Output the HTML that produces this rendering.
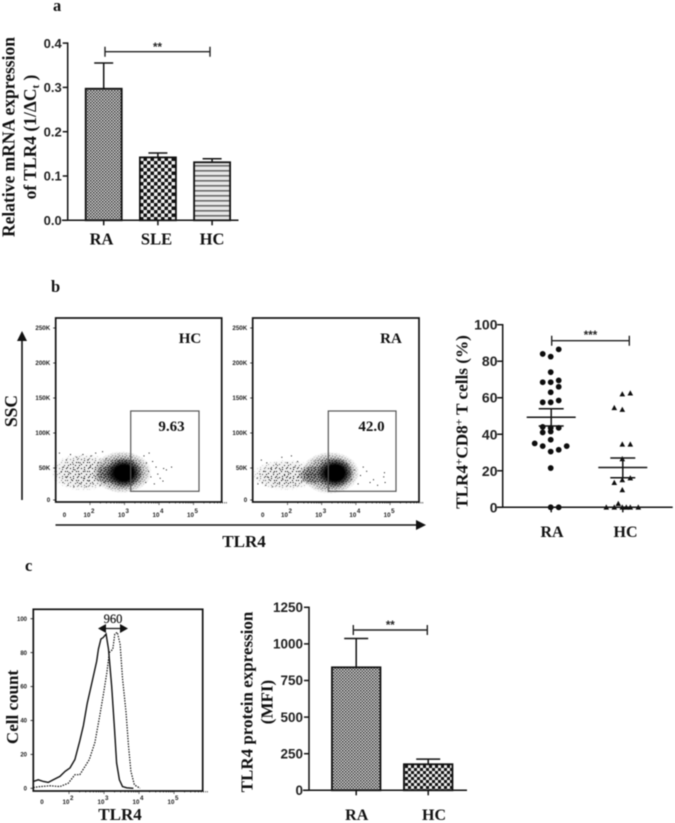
<!DOCTYPE html>
<html lang="en">
<head>
<meta charset="utf-8">
<title>TLR4 expression figure</title>
<style>
html,body{margin:0;padding:0;background:#fff;width:675px;height:823px;overflow:hidden}
svg{display:block;filter:blur(0.5px)}
.serif{font-family:"Liberation Serif",serif;font-weight:bold;fill:#111}
.sans{font-family:"Liberation Sans",sans-serif;font-weight:bold;fill:#222}
</style>
</head>
<body>
<svg id="fig" xmlns="http://www.w3.org/2000/svg" width="675" height="823" viewBox="0 0 675 823">
<defs>
  <pattern id="fine-check" width="3" height="3" patternUnits="userSpaceOnUse">
    <rect width="3" height="3" fill="#dcdcdc"/>
    <rect width="1.5" height="1.5" fill="#333"/>
    <rect x="1.5" y="1.5" width="1.5" height="1.5" fill="#444"/>
  </pattern>
  <pattern id="coarse-check" width="7" height="7" patternUnits="userSpaceOnUse">
    <rect width="7" height="7" fill="#f2f2f2"/>
    <rect width="3.5" height="3.5" fill="#111"/>
    <rect x="3.5" y="3.5" width="3.5" height="3.5" fill="#111"/>
  </pattern>
  <pattern id="mid-check" width="6" height="6" patternUnits="userSpaceOnUse">
    <rect width="6" height="6" fill="#efefef"/>
    <rect width="3" height="3" fill="#111"/>
    <rect x="3" y="3" width="3" height="3" fill="#111"/>
  </pattern>
  <pattern id="h-stripes" width="4" height="5" patternUnits="userSpaceOnUse">
    <rect width="4" height="5" fill="#e8e8e8"/>
    <rect y="0" width="4" height="1.6" fill="#6a6a6a"/>
  </pattern>
  <pattern id="stipple-dense" width="11" height="9" patternUnits="userSpaceOnUse">
    <g fill="#000">
      <rect x="0" y="0" width="1" height="1"/><rect x="4" y="0" width="1" height="1"/>
      <rect x="7" y="1" width="1" height="1"/><rect x="1" y="3" width="1" height="1"/>
      <rect x="6" y="3" width="1" height="1"/>
      <rect x="10" y="3" width="1" height="1"/><rect x="4" y="5" width="1" height="1"/>
      <rect x="2" y="6" width="1" height="1"/><rect x="9" y="6" width="1" height="1"/>
      <rect x="1" y="8" width="1" height="1"/><rect x="7" y="8" width="1" height="1"/>
    </g>
  </pattern>
  <pattern id="stipple-heavy" width="7" height="7" patternUnits="userSpaceOnUse">
    <g fill="#000">
      <rect x="0" y="0" width="1.2" height="1.2"/><rect x="3" y="0.5" width="1.2" height="1.2"/><rect x="5.5" y="1.5" width="1.2" height="1.2"/>
      <rect x="1.5" y="2.5" width="1.2" height="1.2"/><rect x="4" y="3.5" width="1.2" height="1.2"/><rect x="0" y="4.5" width="1.2" height="1.2"/>
      <rect x="2.5" y="5" width="1.2" height="1.2"/><rect x="5.5" y="5.5" width="1.2" height="1.2"/>
    </g>
  </pattern>
  <radialGradient id="feather">
    <stop offset="0" stop-color="#fff"/>
    <stop offset="0.55" stop-color="#fff"/>
    <stop offset="1" stop-color="#000"/>
  </radialGradient>
  <radialGradient id="core-fade">
    <stop offset="0" stop-color="#000"/>
    <stop offset="0.5" stop-color="#000"/>
    <stop offset="1" stop-color="#000" stop-opacity="0"/>
  </radialGradient>
  <radialGradient id="halo-light">
    <stop offset="0" stop-color="#888" stop-opacity="0.16"/>
    <stop offset="0.7" stop-color="#888" stop-opacity="0.12"/>
    <stop offset="1" stop-color="#888" stop-opacity="0"/>
  </radialGradient>
  <radialGradient id="halo-heavy">
    <stop offset="0" stop-color="#555" stop-opacity="0.55"/>
    <stop offset="0.7" stop-color="#555" stop-opacity="0.3"/>
    <stop offset="1" stop-color="#555" stop-opacity="0"/>
  </radialGradient>
</defs>

<g id="panel-a">
  <text class="serif" x="53" y="11" font-size="16.5">a</text>
  <text class="serif" transform="translate(14.5 137) rotate(-90)" text-anchor="middle" font-size="17.5">Relative mRNA expression</text>
  <text class="serif" transform="translate(36 137) rotate(-90)" text-anchor="middle" font-size="17.5">of  TLR4 (1/ΔC<tspan font-size="11" dy="3">t</tspan><tspan dy="-3"> )</tspan></text>
</g>

<g id="panel-b-flow">
  <text class="serif" x="51" y="292" font-size="16.5">b</text>
  <text class="serif" transform="translate(17 411) rotate(-90)" text-anchor="middle" font-size="17.5">SSC</text>
  <line x1="22" y1="500" x2="22" y2="338" stroke="#111" stroke-width="1.6"/>
  <polygon points="22,331 17,341 27,341" fill="#111"/>
  <line x1="55.5" y1="525" x2="418" y2="525" stroke="#111" stroke-width="1.6"/>
  <polygon points="426,525 416,520 416,530" fill="#111"/>
  <text class="serif" x="244" y="547" text-anchor="middle" font-size="17">TLR4</text>
</g>

<g id="panel-b-scatter">
  <text class="serif" transform="translate(467.5 422) rotate(-90)" text-anchor="middle" font-size="17.2">TLR4<tspan font-size="11" dy="-5">+</tspan><tspan dy="5">CD8</tspan><tspan font-size="11" dy="-5">+</tspan><tspan dy="5"> T cells (%)</tspan></text>
</g>

<g id="panel-c-hist">
  <text class="serif" x="25" y="571" font-size="16.5">c</text>
  <text class="serif" transform="translate(18 707) rotate(-90)" text-anchor="middle" font-size="17">Cell count</text>
  <text class="serif" x="120" y="820" text-anchor="middle" font-size="17">TLR4</text>
  <text x="113" y="623" text-anchor="middle" font-size="12.5" font-family="Liberation Serif, serif" fill="#111" stroke="#111" stroke-width="0.2">960</text>
  <line x1="102" y1="628.5" x2="124" y2="628.5" stroke="#111" stroke-width="1.3"/>
  <polygon points="98,628.5 106,624 106,633" fill="#111"/>
  <polygon points="128,628.5 120,624 120,633" fill="#111"/>
</g>

<g id="panel-c-bars">
  <text class="serif" transform="translate(252.5 702) rotate(-90)" text-anchor="middle" font-size="17">TLR4 protein expression</text>
  <text class="serif" transform="translate(272.5 702) rotate(-90)" text-anchor="middle" font-size="17">(MFI)</text>
</g>

<script>
/* ---------- Panel a data ---------- */
const mrnaCategories = ['RA', 'SLE', 'HC'];
const mrnaMeans = [0.297, 0.142, 0.131];
const mrnaErrorTops = [0.355, 0.152, 0.139];
const mrnaTicks = [0, 0.1, 0.2, 0.3, 0.4];
const mrnaTickLabels = ['0.0', '0.1', '0.2', '0.3', '0.4'];

/* ---------- Panel b flow data: sparse events as log10 TLR4, SSC (K) ---------- */
const flowTickK = [0, 50, 100, 150, 200, 250];
const flowTickLabels = ['0', '50K', '100K', '150K', '200K', '250K'];
const flowDecades = [2, 3, 4, 5];
const hcEventLog = [1.1,1.15,1.2,1.22,1.28,1.3,1.35,1.38,1.42,1.45,1.5,1.52,1.55,1.6,1.62,1.66,1.7,1.72,1.78,1.8,1.84,1.88,1.92,1.95,2,2.02,2.08,2.1,2.15,2.2,2.22,2.28,2.3,2.35,2.4,2.45,2.5,2.55,3.55,3.6,3.62,3.68,3.7,3.75,3.8,3.85,3.9,3.95,4.02,4.1,4.12,4.2,4.35];
const hcEventSsc = [72,45,30,52,38,62,26,44,70,34,56,24,48,66,30,42,58,28,70,36,46,24,62,32,52,68,28,40,72,34,58,26,48,74,30,64,42,24,68,30,58,46,72,38,60,28,52,42,36,32,50,48,52];
const raEventLog = [1.1,1.12,1.18,1.22,1.25,1.3,1.35,1.38,1.4,1.45,1.5,1.55,1.58,1.62,1.65,1.7,1.75,1.78,1.82,1.85,1.9,1.95,1.98,2.02,2.05,2.1,2.15,2.2,2.22,2.28,2.3,2.35,2.4,3.72,3.8,3.85,3.95,4.05,4.12,4.2,4.3,4.4,4.5,4.62,4.8,4.82,4.84];
const raEventSsc = [36,28,42,62,30,46,26,58,38,34,50,24,44,30,56,36,28,48,66,34,40,30,58,44,36,68,30,52,26,60,38,46,32,56,44,34,48,28,40,52,46,30,34,26,38,44,30];
/* density clusters: centre log10, centre SSC, spread log, spread SSC, density level */
const hcClusterLog = [1.8, 2.93, 2.55, 2.98];
const hcClusterSsc = [44, 44, 41, 43];
const hcClusterSpreadLog = [0.95, 0.85, 0.4, 0.55];
const hcClusterSpreadSsc = [27, 30, 14, 22];
const hcClusterLevel = [0, 1, 1, 2];
const raClusterLog = [1.95, 3.25, 2.75, 3.39];
const raClusterSsc = [40, 43, 40, 43];
const raClusterSpreadLog = [1.0, 0.85, 0.45, 0.55];
const raClusterSpreadSsc = [22, 30, 14, 22];
const raClusterLevel = [0, 1, 1, 2];

/* ---------- Panel b scatter data ---------- */
const scatterTicks = [0, 20, 40, 60, 80, 100];
const raValues = [84,82.5,86.5,74,68.5,68.5,69.5,66,63,57.5,57.5,58.5,44,43.5,43.5,41,41.5,37,35,33.5,33.5,31.5,30.5,21.5,0,0];
const raSlots = [-1,0,1,0,-1,0,1,1,0,-1,0,1,-1,0,1,-1,0,0,-2,-1,2,1,0,0,0,1];
const hcValues = [62,62.5,54.5,53.5,34.5,34.5,26.5,16,15,13.5,9.5,2,0,0,0,0,0,0];
const hcSlots = [0,1,-1,0,0,1,0,1,0,-1,0,-0.5,-2,-1,0,0.5,1,2];
const raSummary = [44.5, 49.3, 54];
const hcSummary = [16.2, 21.8, 27];

/* ---------- Panel c histogram data ---------- */
const histTicks = [0, 20, 40, 60, 80, 100];
const solidLog = [0.98,1.12,1.27,1.41,1.55,1.74,1.89,2.03,2.17,2.31,2.41,2.52,2.65,2.79,2.84,2.91,2.98,3.06,3.13,3.22,3.30,3.36,3.44,3.53,3.65,3.84];
const solidCount = [4,5,4,3.5,5,7,10,12,17,28,37,50,62,75,82,88,89,91,82,60,35,15,5,1,0.3,0];
const dottedLog = [0.98,1.17,1.46,1.74,1.98,2.17,2.31,2.46,2.58,2.74,2.87,2.98,3.08,3.15,3.25,3.31,3.38,3.46,3.53,3.63,3.70,3.77,3.87,4.03];
const dottedCount = [0.5,1,1.5,1,3,8,8,13,17,27,42,55,68,80,82,91,92,85,65,45,25,10,2,0];

/* ---------- Panel c bar data ---------- */
const mfiCategories = ['RA', 'HC'];
const mfiMeans = [840, 178];
const mfiErrorTops = [1037, 213];
const mfiTicks = [0, 250, 500, 750, 1000, 1250];

const NS = 'http://www.w3.org/2000/svg';
function make(parent, tag, props, text) {
  const el = document.createElementNS(NS, tag);
  for (const k in props) el.setAttribute(k, props[k]);
  if (text !== undefined) el.textContent = text;
  parent.appendChild(el);
  return el;
}
const panelA = document.getElementById('panel-a');
const flow = document.getElementById('panel-b-flow');
const scat = document.getElementById('panel-b-scatter');
const hist = document.getElementById('panel-c-hist');
const barsC = document.getElementById('panel-c-bars');
const defs = document.querySelector('defs');

/* ---------- shared bar chart drawing ---------- */
function drawBars(g, cfg) {
  const y = v => cfg.y0 - v * cfg.pxPerUnit;
  cfg.categories.forEach((cat, i) => {
    const cx = cfg.centers(i);
    const bar = make(g, 'rect', {x: cx - cfg.barW / 2, y: y(cfg.means[i]), width: cfg.barW, height: cfg.y0 - y(cfg.means[i]), fill: 'url(#' + cfg.fills[i] + ')', stroke: '#111', 'stroke-width': 1.8});
    
    
    const err = make(g, 'path', {d: 'M' + cx + ' ' + y(cfg.means[i]) + 'V' + y(cfg.errorTops[i]) + 'M' + (cx - cfg.capW) + ' ' + y(cfg.errorTops[i]) + 'H' + (cx + cfg.capW), stroke: '#111', 'stroke-width': 1.5, fill: 'none'});
    
    
    const tick = make(g, 'line', {x1: cx, x2: cx, y1: cfg.y0, y2: cfg.y0 + 5, stroke: '#111', 'stroke-width': 1.5});
    
    
    const lab = make(g, 'text', {x: cfg.labelCenters(i), y: cfg.catBaseline, 'text-anchor': 'middle', 'font-size': cfg.catSize, class: 'serif'}, cat);
    
    
  });
  const yAxis = make(g, 'line', {x1: cfg.axisX, x2: cfg.axisX, y1: y(cfg.ticks[cfg.ticks.length - 1]) - 0.7, y2: cfg.y0 + 0.7, stroke: '#111', 'stroke-width': 1.5});
  
  
  const xAxis = make(g, 'line', {x1: cfg.xAxisFrom, x2: cfg.xAxisTo, y1: cfg.y0, y2: cfg.y0, stroke: '#111', 'stroke-width': 1.5});
  
  
  cfg.ticks.forEach((t, i) => {
    const tk = make(g, 'line', {x1: cfg.axisX - 5, x2: cfg.axisX, y1: y(t), y2: y(t), stroke: '#111', 'stroke-width': 1.5});
    
    
    const lb = make(g, 'text', {x: cfg.axisX - 6, y: y(t) + 4.7, 'text-anchor': 'end', 'font-size': cfg.tickSize, class: 'sans'}, cfg.tickLabels ? cfg.tickLabels[i] : String(t));
    
    
  });
}
function drawBracket(g, x1, x2, yb, stars, starY) {
  const br = make(g, 'path', {d: 'M' + x1 + ' ' + (yb - 5) + 'V' + (yb + 5) + 'M' + x1 + ' ' + yb + 'H' + x2 + 'M' + x2 + ' ' + (yb - 5) + 'V' + (yb + 5), stroke: '#222', 'stroke-width': 1.4, fill: 'none'});
  
  
  const st = make(g, 'text', {x: (x1 + x2) / 2, y: starY, 'text-anchor': 'middle', 'font-size': 11.5, class: 'sans'}, stars);
  
  
}

drawBars(panelA, {
  categories: mrnaCategories, means: mrnaMeans, errorTops: mrnaErrorTops, ticks: mrnaTicks, tickLabels: mrnaTickLabels,
  fills: ['fine-check', 'coarse-check', 'h-stripes'],
  y0: 220.3, pxPerUnit: 443, barW: 36, capW: 9.5, axisX: 67.7, xAxisFrom: 62, xAxisTo: 238.5,
  centers: i => 103.7 + i * 54.2, labelCenters: i => [101.5, 156.5, 212][i], catBaseline: 244.5, catSize: 16.5, tickSize: 13
});
drawBracket(panelA, 105, 210, 51.7, '**', 51);

/* ---------- flow plots ---------- */
function drawFlow(cfg) {
  const x = l => cfg.x2 + (l - 2) * cfg.decade;
  const y = k => 503 - 0.7 * k;
  const g = make(flow, 'g', {});
  
  
  cfg.cl.forEach((l, i) => {
    const level = cfg.level[i];
    const maskId = cfg.name + '-mask-' + i;
    const ex = x(l), ey = y(cfg.cs[i]), rx = cfg.csl[i] * cfg.decade, ry = cfg.css[i] * 0.7;
    if (level === 2) {
      const core = make(g, 'ellipse', {cx: ex, cy: ey, rx: rx, ry: ry, fill: 'url(#core-fade)'});
      
      
      return;
    }
    const halo = make(g, 'ellipse', {cx: ex, cy: ey, rx: rx, ry: ry, fill: level === 0 ? 'url(#halo-light)' : 'url(#halo-heavy)'});
    
    
    const m = make(defs, 'mask', {id: maskId, maskUnits: 'userSpaceOnUse', x: 0, y: 0, width: 675, height: 823});
    make(m, 'ellipse', {cx: ex, cy: ey, rx: rx, ry: ry, fill: 'url(#feather)'});
    const e = make(g, 'ellipse', {cx: ex, cy: ey, rx: rx, ry: ry, fill: level === 0 ? 'url(#stipple-dense)' : 'url(#stipple-heavy)', mask: 'url(#' + maskId + ')'});
    
    
  });
  cfg.evLog.forEach((l, i) => {
    const d = make(g, 'rect', {x: x(l), y: y(cfg.evSsc[i]), width: 1, height: 1, fill: '#111'});
    
    
  });
  const box = make(g, 'rect', {x: cfg.left, y: 318, width: cfg.w, height: 184, fill: 'none', stroke: '#111', 'stroke-width': 1.7});
  
  
  const gate = make(g, 'rect', {x: cfg.gx1, y: 411, width: cfg.gx2 - cfg.gx1, height: 80.3, fill: 'none', stroke: '#555', 'stroke-width': 1.2});
  
  
  const gl = make(g, 'text', {x: cfg.gateX, y: 431, 'text-anchor': 'middle', 'font-size': 15, class: 'serif'}, cfg.gate);
  
  
  const tl = make(g, 'text', {x: cfg.titleX, y: 343, 'text-anchor': 'middle', 'font-size': 15, class: 'serif'}, cfg.title);
  
  
  flowTickK.forEach((k, i) => {
    const t = make(g, 'line', {x1: cfg.left - 2.5, x2: cfg.left, y1: y(k) - (k === 0 ? 3 : 0), y2: y(k) - (k === 0 ? 3 : 0), stroke: '#111', 'stroke-width': 0.8});
    
    
    const lb = make(g, 'text', {x: cfg.left - 5.5, y: y(k) + 2 - (k === 0 ? 3 : 0), 'text-anchor': 'end', 'font-size': 6.2, class: 'sans'}, flowTickLabels[i]);
    
    
  });
  const z = make(g, 'text', {x: cfg.zero, y: 517, 'text-anchor': 'middle', 'font-size': 6.2, class: 'sans'}, '0');
  
  
  flowDecades.forEach(d => {
    const lb = make(g, 'text', {x: x(d) - 1, y: 517, 'text-anchor': 'middle', 'font-size': 6.2, class: 'sans'}, '10');
    
    
    const sup = make(lb, 'tspan', {dy: -4, dx: 0.6}, String(d));
    
    
    [1, 2, 3, 4, 5, 6, 7, 8, 9].forEach(m => {
      const t = make(g, 'line', {x1: x(d + Math.log10(m)), x2: x(d + Math.log10(m)), y1: 502, y2: m === 1 ? 505 : 503.5, stroke: '#111', 'stroke-width': 0.6});
      
      
    });
  });
}
drawFlow({name: 'hc-flow-plot', left: 55.7, w: 166, x2: 90, decade: 34.5, zero: 64.5, gx1: 130.7, gx2: 199, gate: '9.63', gateX: 171.5, title: 'HC', titleX: 190, evLog: hcEventLog, evSsc: hcEventSsc, cl: hcClusterLog, cs: hcClusterSsc, csl: hcClusterSpreadLog, css: hcClusterSpreadSsc, level: hcClusterLevel});
drawFlow({name: 'ra-flow-plot', left: 252.7, w: 166.3, x2: 287.5, decade: 34.2, zero: 262.7, gx1: 328.3, gx2: 396, gate: '42.0', gateX: 371.5, title: 'RA', titleX: 391, evLog: raEventLog, evSsc: raEventSsc, cl: raClusterLog, cs: raClusterSsc, csl: raClusterSpreadLog, css: raClusterSpreadSsc, level: raClusterLevel});

/* ---------- scatter ---------- */
(function () {
  const y = v => 507.3 - v * 1.826;
  const axisX = 502.7, raX = 550.7, hcX = 622.3, slot = 8;
  raValues.forEach((v, i) => {
    const c = make(scat, 'circle', {cx: raX + raSlots[i] * slot, cy: y(v), r: 2.9, fill: '#0d0d0d'});
    
    
  });
  hcValues.forEach((v, i) => {
    const px = hcX + hcSlots[i] * slot, py = y(v);
    const t = make(scat, 'polygon', {points: (px - 2.8) + ',' + (py + 2.3) + ' ' + (px + 2.8) + ',' + (py + 2.3) + ' ' + px + ',' + (py - 2.9), fill: '#0d0d0d'});
    
    
  });
  [[raX + 0.5, raSummary, 'ra'], [hcX + 0.5, hcSummary, 'hc']].forEach(([cx, s, key]) => {
    const m = make(scat, 'path', {d: 'M' + (cx - 24.5) + ' ' + y(s[1]) + 'H' + (cx + 24.5) + 'M' + (cx - 12.5) + ' ' + y(s[0]) + 'H' + (cx + 12.5) + 'M' + (cx - 12.5) + ' ' + y(s[2]) + 'H' + (cx + 12.5) + 'M' + cx + ' ' + y(s[0]) + 'V' + y(s[2]), stroke: '#111', 'stroke-width': 1.5, fill: 'none'});
    
    
    const tk = make(scat, 'line', {x1: cx, x2: cx, y1: y(0), y2: y(0) + 5, stroke: '#111', 'stroke-width': 1.5});
    
    
  });
  const ya = make(scat, 'line', {x1: axisX, x2: axisX, y1: y(100) - 0.7, y2: y(0) + 0.7, stroke: '#111', 'stroke-width': 1.5});
  
  
  const xa = make(scat, 'line', {x1: 497, x2: 672.7, y1: y(0), y2: y(0), stroke: '#111', 'stroke-width': 1.5});
  
  
  scatterTicks.forEach(t => {
    const tk = make(scat, 'line', {x1: axisX - 5.5, x2: axisX, y1: y(t), y2: y(t), stroke: '#111', 'stroke-width': 1.5});
    
    
    const lb = make(scat, 'text', {x: axisX - 5.2, y: y(t) + 5, 'text-anchor': 'end', 'font-size': 14, class: 'sans'}, String(t));
    
    
  });
  const la = make(scat, 'text', {x: 552, y: 537, 'text-anchor': 'middle', 'font-size': 16, class: 'serif'}, 'RA');
  
  
  const lb2 = make(scat, 'text', {x: 625.5, y: 537, 'text-anchor': 'middle', 'font-size': 16, class: 'serif'}, 'HC');
  
  
  drawBracket(scat, 551.7, 629.3, 340.7, '***', 339);
})();

/* ---------- histogram ---------- */
(function () {
  const x = l => 104 + (l - 3) * 35;
  const y = c => 788.3 - c * 1.696;
  const line = (ls, cs) => ls.map((l, i) => (i ? 'L' : 'M') + x(l).toFixed(1) + ' ' + y(cs[i]).toFixed(1)).join('');
  const dotted = make(hist, 'path', {d: line(dottedLog, dottedCount), fill: 'none', stroke: '#111', 'stroke-width': 1.2, 'stroke-dasharray': '1.5 1.2'});
  
  
  const solid = make(hist, 'path', {d: line(solidLog, solidCount), fill: 'none', stroke: '#111', 'stroke-width': 1.4});
  
  
  const box = make(hist, 'rect', {x: 33.3, y: 609.3, width: 169.4, height: 181.7, fill: 'none', stroke: '#111', 'stroke-width': 1.7});
  
  
  histTicks.forEach(t => {
    const tk = make(hist, 'line', {x1: 30.5, x2: 33.3, y1: y(t), y2: y(t), stroke: '#111', 'stroke-width': 0.8});
    
    
    const lb = make(hist, 'text', {x: 27, y: y(t) + 2.2, 'text-anchor': 'end', 'font-size': 6, class: 'sans'}, String(t));
    
    
  });
  const z = make(hist, 'text', {x: 42, y: 804, 'text-anchor': 'middle', 'font-size': 6.2, class: 'sans'}, '0');
  
  
  flowDecades.forEach(d => {
    const lb = make(hist, 'text', {x: x(d) - 1, y: 804, 'text-anchor': 'middle', 'font-size': 6.2, class: 'sans'}, '10');
    
    
    const sup = make(lb, 'tspan', {dy: -4, dx: 0.6}, String(d));
    
    
    [1, 2, 3, 4, 5, 6, 7, 8, 9].forEach(m => {
      const t = make(hist, 'line', {x1: x(d + Math.log10(m)), x2: x(d + Math.log10(m)), y1: 791, y2: m === 1 ? 794 : 792.5, stroke: '#111', 'stroke-width': 0.6});
      
      
    });
  });
})();

/* ---------- panel c bars ---------- */
drawBars(barsC, {
  categories: mfiCategories, means: mfiMeans, errorTops: mfiErrorTops, ticks: mfiTicks,
  fills: ['fine-check', 'mid-check'],
  y0: 790.3, pxPerUnit: 0.1464, barW: 48.5, capW: 12, axisX: 309, xAxisFrom: 303, xAxisTo: 467,
  centers: i => 356.2 + i * 72, labelCenters: i => [356.7, 434][i], catBaseline: 820, catSize: 16, tickSize: 13.5
});
drawBracket(barsC, 353.3, 427.3, 630, '**', 629);
</script>
</svg>
</body>
</html>
